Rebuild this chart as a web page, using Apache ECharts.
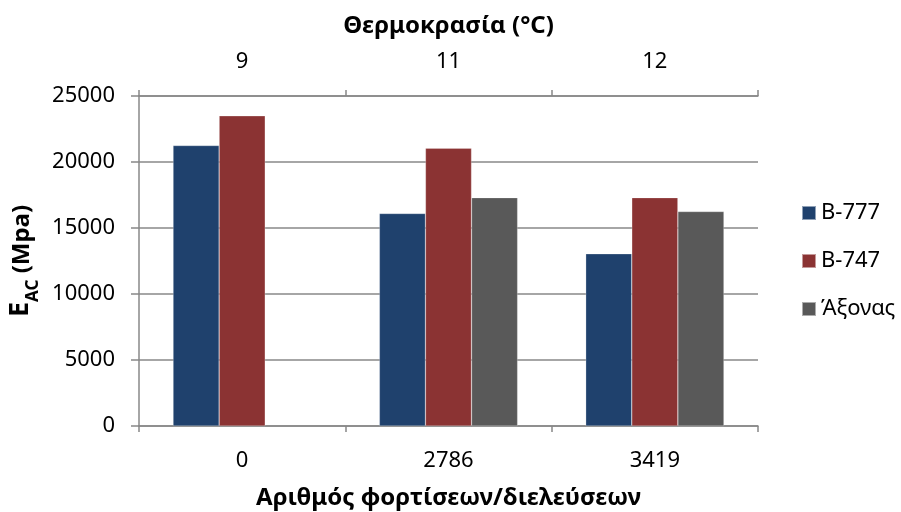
<!DOCTYPE html>
<html><head><meta charset="utf-8">
<script src="https://cdn.jsdelivr.net/npm/echarts@6/dist/echarts.min.js"></script>
<style>html,body{margin:0;padding:0;background:#fff}#c{width:901px;height:512px}</style>
</head><body><div id="c"></div>
<script>
const loads = ['0', '2786', '3419'];
const temps = ['9', '11', '12'];
const seriesNames = ['B-777', 'B-747', 'Άξονας'];
const b777 = [21250, 16100, 13050];
const b747 = [23500, 21050, 17300];
const axonas = [null, 17300, 16250];
const yTicks = {min: 0, max: 25000, interval: 5000};

const FONT = '"Noto Sans", "Open Sans", sans-serif';
const colors = ['#1F416D', '#8B3333', '#595959'];
const gridCol = '#888888';
const chart = echarts.init(document.getElementById('c'));
const values = [b777, b747, axonas];
chart.setOption({
  animation: false,
  textStyle: {fontFamily: FONT},
  grid: {left: 139, right: 143, top: 96, bottom: 86, containLabel: false, outerBoundsMode: 'none'},
  legend: {
    orient: 'vertical', left: 801, top: 202, padding: 0,
    itemWidth: 14, itemHeight: 14, itemGap: 26, icon: 'rect',
    textStyle: {fontSize: 22, color: '#000', fontFamily: FONT},
    data: seriesNames
  },
  xAxis: [{
    type: 'category', data: loads, position: 'bottom',
    axisLine: {show: true, lineStyle: {color: gridCol, width: 1.5}},
    axisTick: {show: true, length: 6, inside: false, lineStyle: {color: gridCol, width: 1.5}},
    axisLabel: {fontSize: 22, color: '#000', margin: 24, fontFamily: FONT},
    name: 'Αριθμός φορτίσεων/διελεύσεων', nameLocation: 'middle', nameGap: 60,
    nameTextStyle: {fontSize: 24, fontWeight: 'bold', color: '#000', fontFamily: FONT}
  }, {
    type: 'category', data: temps, position: 'top',
    axisLine: {show: true, lineStyle: {color: gridCol, width: 1.5}},
    axisTick: {show: true, length: 6, inside: false, lineStyle: {color: gridCol, width: 1.5}},
    axisLabel: {fontSize: 22, color: '#000', margin: 23, fontFamily: FONT},
    name: 'Θερμοκρασία (°C)', nameLocation: 'middle', nameGap: 58,
    nameTextStyle: {fontSize: 24, fontWeight: 'bold', color: '#000', fontFamily: FONT}
  }],
  yAxis: {
    type: 'value', min: yTicks.min, max: yTicks.max, interval: yTicks.interval,
    axisLine: {show: true, lineStyle: {color: gridCol, width: 1.5}},
    axisTick: {show: true, length: 8, inside: false, lineStyle: {color: gridCol, width: 1.5}},
    splitLine: {show: true, lineStyle: {color: gridCol, width: 1.5}},
    axisLabel: {fontSize: 22, color: '#000', margin: 24, fontFamily: FONT, formatter: v => String(v)},
    name: '{b|E}{s|AC}{m| (Mpa)}', nameLocation: 'middle', nameGap: 104, nameRotate: 90,
    nameTextStyle: {
      color: '#000',
      rich: {
        b: {fontSize: 27, fontWeight: 'bold', color: '#000', fontFamily: FONT, verticalAlign: 'bottom'},
        s: {fontSize: 17, fontWeight: 'bold', color: '#000', fontFamily: FONT, verticalAlign: 'bottom', padding: [0, 0, -7, 0]},
        m: {fontSize: 24, fontWeight: 'bold', color: '#000', fontFamily: FONT, verticalAlign: 'bottom'}
      }
    }
  },
  series: seriesNames.map((n, i) => ({
    name: n, type: 'bar', xAxisIndex: 0, data: values[i],
    barCategoryGap: '33%', barGap: '0%',
    itemStyle: {color: colors[i], borderColor: 'rgba(255,255,255,0.5)', borderWidth: 0.5}
  }))
});
</script></body></html>
